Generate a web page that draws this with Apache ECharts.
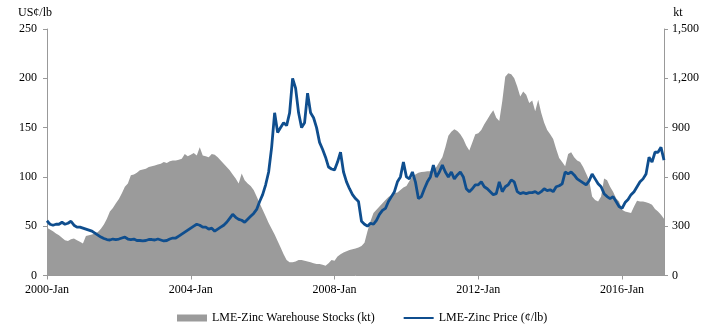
<!DOCTYPE html>
<html><head><meta charset="utf-8">
<script src="https://cdn.jsdelivr.net/npm/echarts@6/dist/echarts.min.js"></script>
<style>html,body{margin:0;padding:0;background:#fff}#c{width:707px;height:334px}</style>
</head><body><div id="c"></div>
<script>
var startYear = 2000;
var xTickLabels = ['2000-Jan','2004-Jan','2008-Jan','2012-Jan','2016-Jan'];
var monthNames = ['Jan','Feb','Mar','Apr','May','Jun','Jul','Aug','Sep','Oct','Nov','Dec'];
// LME-Zinc Price (US¢/lb), monthly 2000-Jan .. 2017-Mar
var price = [
 55.5,52,51,52,52,54,52,53,55,51,49,49,
 48,47,46,45,43,41,39,37.5,36.5,36,37,36.5,
 37,38,39,37,36.5,37,35.5,35.5,35,35.5,36.5,36.5,
 36,37,36,35,35.5,37,38,38,40,42,44,46,
 48,50,52,51,49,49,47,48,45,47,49,51,
 54,58,62,59,57,56,54,57,60,63,67,75,
 82,92,105,130,165,145,150,155,152,165,200,190,
 165,150,155,185,165,160,150,135,128,120,110,108,
 107,115,125,105,95,88,82,78,75,55,52,50,
 53,52,56,62,66,68,75,80,85,95,100,115,
 100,98,105,95,78,80,88,95,100,112,100,105,
 112,105,100,105,98,102,105,100,88,85,88,92,
 92,95,90,88,85,82,83,95,85,90,92,97,
 95,85,83,84,83,84,84,85,83,85,88,86,
 87,85,90,91,93,105,103,105,102,98,96,94,
 92,96,103,98,93,90,83,80,78,80,75,70,
 68,74,77,82,85,90,95,98,103,120,115,125,
 125,130,117
];
// LME-Zinc Warehouse Stocks (kt)
var stocks = [
 290,280,270,255,245,230,215,210,220,225,215,205,
 195,240,245,250,255,265,285,310,345,390,410,440,
 465,500,540,560,610,615,625,640,645,650,660,665,
 670,675,680,690,685,695,700,700,705,710,740,725,
 735,745,730,780,730,725,720,740,735,720,700,680,
 660,640,615,590,560,620,580,560,545,520,480,440,
 400,360,320,285,250,210,170,130,95,80,80,85,
 95,95,90,85,80,75,70,70,65,60,75,95,
 90,115,130,140,148,155,160,165,170,180,200,270,
 330,380,400,420,440,460,478,490,500,505,520,535,
 545,575,600,615,625,630,632,635,635,645,660,690,
 720,780,850,875,890,880,860,830,790,760,810,860,
 865,885,920,950,980,1005,960,940,1060,1210,1230,1225,
 1200,1150,1090,1120,1100,1050,1065,1000,1070,990,930,885,
 860,830,770,715,690,665,740,750,720,700,690,660,
 620,580,480,460,450,480,590,580,540,510,470,450,
 400,390,385,380,420,455,450,450,445,440,430,405,
 390,370,345
];
var categories = [];
for (var i = 0; i < price.length; i++) {
  categories.push((startYear + Math.floor(i/12)) + '-' + monthNames[i%12]);
}
var FONT = 'Liberation Serif';
var chart = echarts.init(document.getElementById('c'));
chart.setOption({
  animation: false,
  textStyle: {fontFamily: FONT, color: '#000'},
  grid: {left: 47, right: 43, top: 29, bottom: 58.5},
  legend: {
    left: 172, top: 307, itemGap: 28, itemWidth: 30, itemHeight: 7,
    textStyle: {fontFamily: FONT, fontSize: 12, color: '#000'},
    data: [
      {name: 'LME-Zinc Warehouse Stocks (kt)', icon: 'rect'},
      {name: 'LME-Zinc Price (¢/lb)', itemStyle: {opacity: 0}}
    ]
  },
  xAxis: {
    type: 'category', data: categories, boundaryGap: false,
    axisLine: {lineStyle: {color: '#999', width: 1}},
    axisTick: {interval: function(i){return i % 48 === 0;}, length: 4, lineStyle: {color: '#999'}},
    axisLabel: {
      interval: function(i){return i % 48 === 0 && xTickLabels.indexOf(categories[i]) >= 0;},
      fontFamily: FONT, fontSize: 12, color: '#000', margin: 8
    },
    splitLine: {show: false}
  },
  yAxis: [{
    type: 'value', min: 0, max: 250, interval: 50,
    name: 'US¢/lb', nameLocation: 'end', nameGap: 10,
    nameTextStyle: {fontFamily: FONT, fontSize: 12, color: '#000', align: 'center', padding: [0, 24, 0, 0]},
    axisLine: {show: true, lineStyle: {color: '#999'}},
    axisTick: {show: true, length: 4, lineStyle: {color: '#999'}},
    axisLabel: {fontFamily: FONT, fontSize: 12, color: '#000', margin: 10},
    splitLine: {show: false}
  }, {
    type: 'value', min: 0, max: 1500, interval: 300, position: 'right',
    name: 'kt', nameLocation: 'end', nameGap: 10,
    nameTextStyle: {fontFamily: FONT, fontSize: 12, color: '#000', align: 'center', padding: [0, 0, 0, 28]},
    axisLine: {show: true, lineStyle: {color: '#999'}},
    axisTick: {show: true, length: 4, lineStyle: {color: '#999'}},
    axisLabel: {fontFamily: FONT, fontSize: 12, color: '#000', margin: 8,
      formatter: function(v){return v.toLocaleString('en-US');}},
    splitLine: {show: false}
  }],
  series: [{
    name: 'LME-Zinc Warehouse Stocks (kt)', type: 'line', yAxisIndex: 1,
    data: stocks, symbol: 'none', color: '#9b9b9b',
    lineStyle: {width: 0}, areaStyle: {color: '#9b9b9b', opacity: 1}
  }, {
    name: 'LME-Zinc Price (¢/lb)', type: 'line', yAxisIndex: 0,
    data: price, symbol: 'none', color: '#0f4e8e',
    lineStyle: {width: 2.8, color: '#0f4e8e'}
  }]
});
</script></body></html>
